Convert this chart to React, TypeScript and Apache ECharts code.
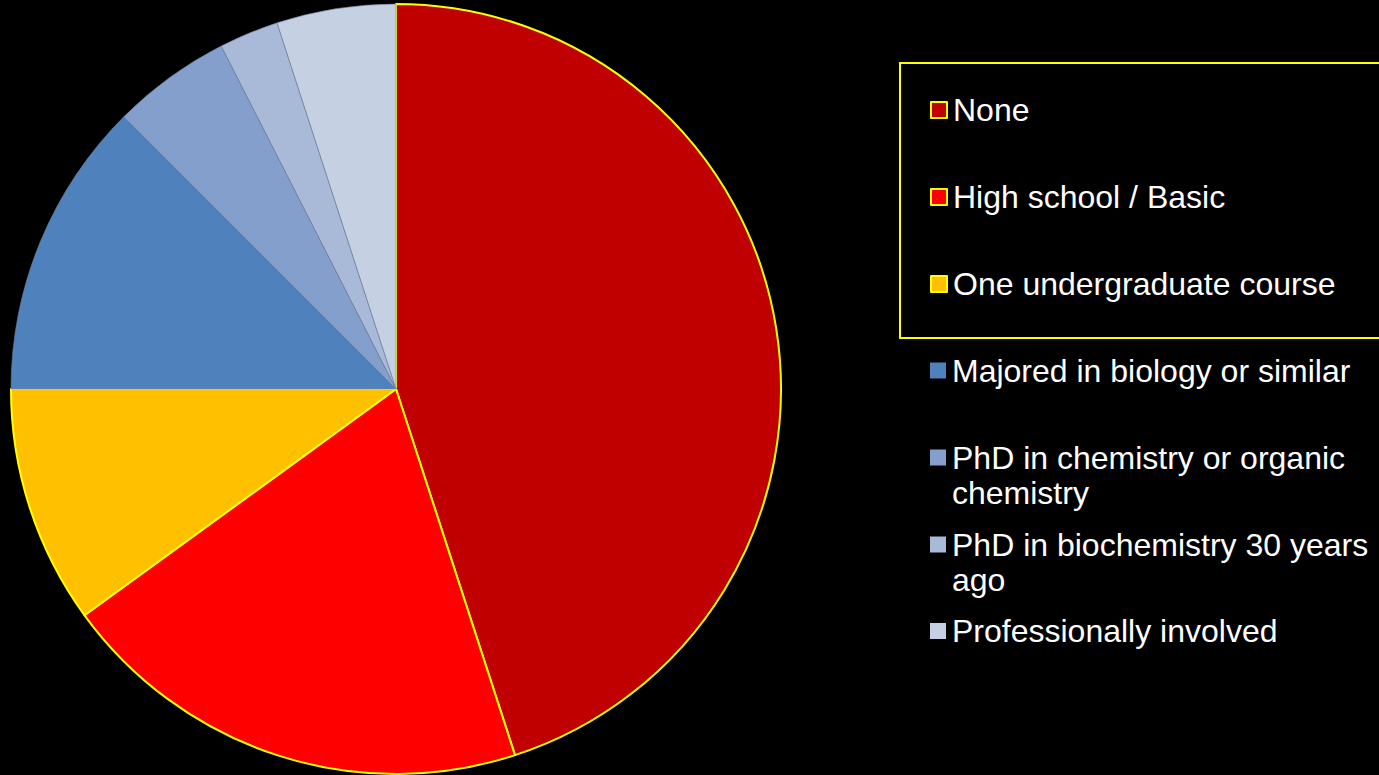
import React, { useEffect, useRef } from "react";
import * as echarts from "echarts";

const categories = [
  "None",
  "High school / Basic",
  "One undergraduate course",
  "Majored in biology or similar",
  "PhD in chemistry or organic chemistry",
  "PhD in biochemistry 30 years ago",
  "Professionally involved",
];
const values = [18, 8, 4, 5, 2, 1, 2];
const colors = ["#C00000", "#FF0000", "#FFC000", "#4F81BD", "#849FCB", "#A9B9D8", "#C5D0E3"];
const legendLines = [
  ["None"],
  ["High school / Basic"],
  ["One undergraduate course"],
  ["Majored in biology or similar"],
  ["PhD in chemistry or organic", "chemistry"],
  ["PhD in biochemistry 30 years", "ago"],
  ["Professionally involved"],
];
const highlighted = [true, true, true, false, false, false, false];

export default function App() {
  const ref = useRef<HTMLDivElement>(null);
  useEffect(() => {
    if (!ref.current) return;
    const chart = echarts.init(ref.current, null, { renderer: "svg" });
    const font = "'Liberation Sans', Arial, sans-serif";
    const lh = 35;
    const legendCenters = [110, 197, 284, 370.5, 457.5, 544.5, 631];
    const legends = categories.map((name, i) => {
      const lines = legendLines[i];
      const multi = lines.length > 1;
      return {
        orient: "vertical",
        left: 930,
        top: multi ? legendCenters[i] - lh * 1.5 : legendCenters[i] - lh / 2,
        padding: 0,
        itemWidth: 16,
        itemHeight: 16,
        itemGap: 0,
        icon: "rect",
        selectedMode: false,
        formatter: () => (multi ? "\n" + lines.join("\n") : lines[0]),
        textStyle: {
          color: "#FFFFFF",
          fontSize: 32,
          fontFamily: font,
          lineHeight: lh,
          padding: [0, 0, 0, 1],
        },
        data: [
          {
            name,
            itemStyle: highlighted[i]
              ? { color: colors[i], borderColor: "#FFFF00", borderWidth: 2 }
              : { color: colors[i], borderWidth: 0 },
          },
        ],
      };
    });
    chart.setOption({
      animation: false,
      backgroundColor: "#000000",
      legend: legends,
      graphic: [
        {
          type: "rect",
          shape: { x: 900, y: 63, width: 520, height: 275 },
          style: { fill: "none", stroke: "#FFFF00", lineWidth: 2 },
          silent: true,
        },
      ],
      series: [
        {
          type: "pie",
          center: [396, 389],
          radius: 385,
          startAngle: 90,
          clockwise: true,
          silent: true,
          label: { show: false },
          labelLine: { show: false },
          emphasis: { disabled: true },
          data: categories.map((name, i) => ({
            name,
            value: values[i],
            itemStyle: highlighted[i]
              ? { color: colors[i], borderColor: "#FFFF00", borderWidth: 2 }
              : { color: colors[i], borderColor: "#6E7F9C", borderWidth: 0.6 },
          })),
        },
      ],
    });
    return () => chart.dispose();
  }, []);
  return (
    <div
      ref={ref}
      style={{ position: "absolute", left: 0, top: 0, width: 1379, height: 775 }}
    />
  );
}
